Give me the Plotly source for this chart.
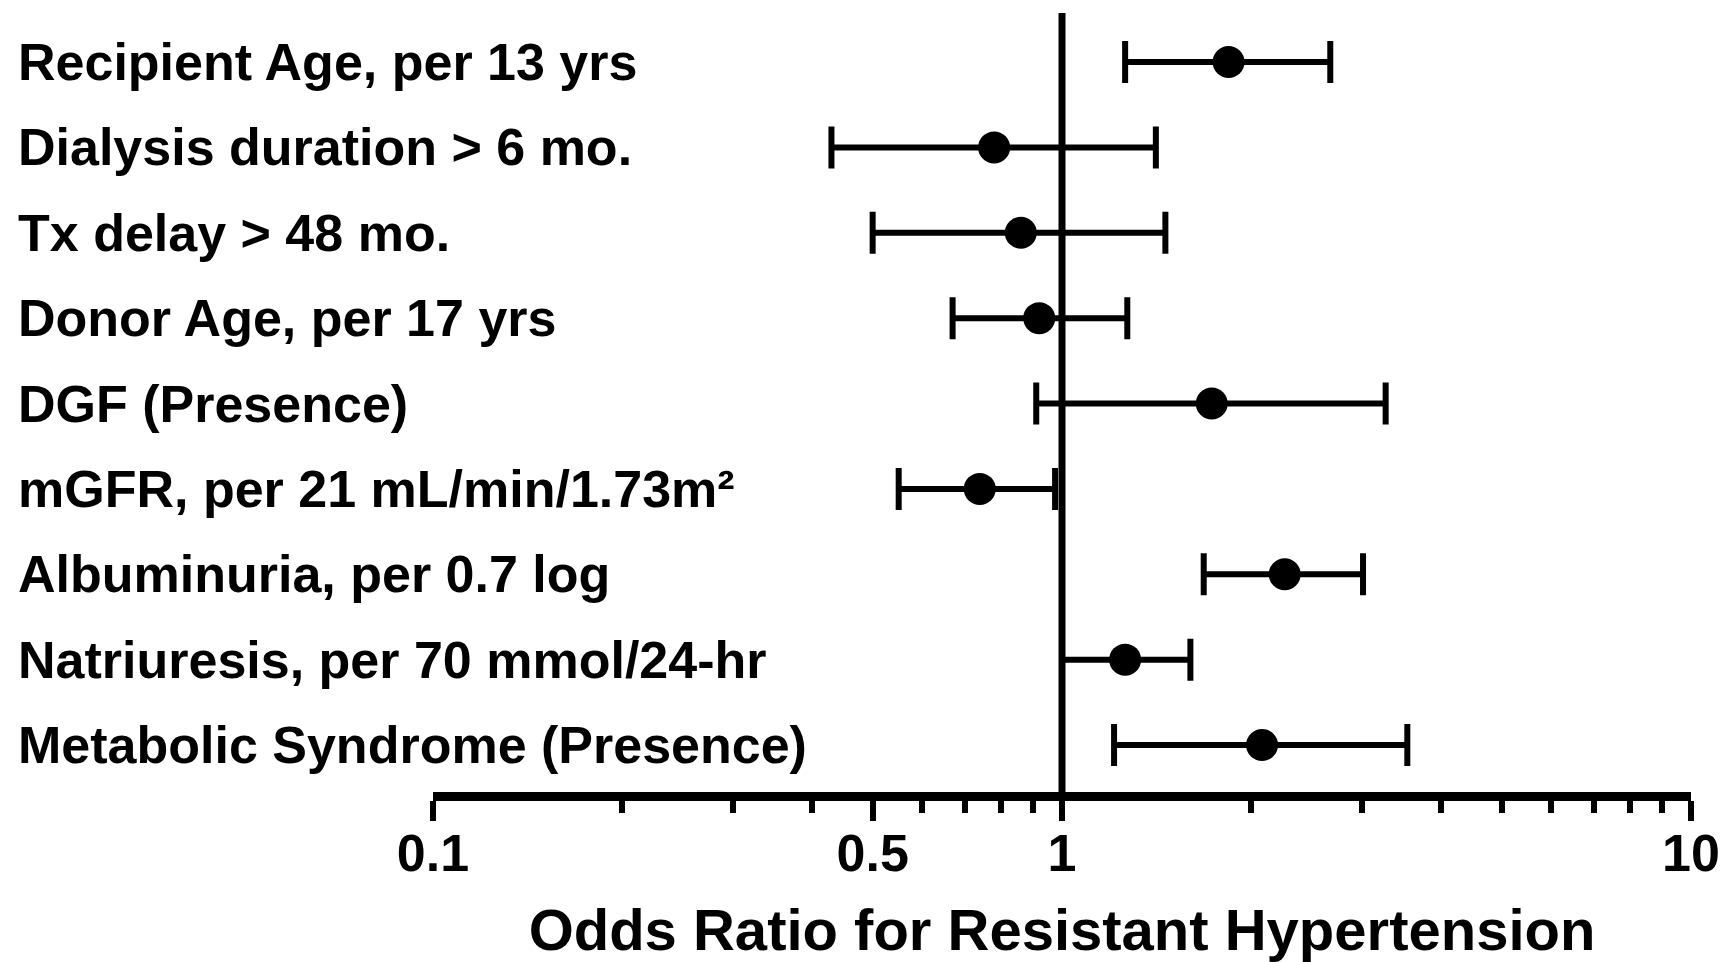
import plotly.graph_objects as go

labels = [
    "Recipient Age, per 13 yrs",
    "Dialysis duration > 6 mo.",
    "Tx delay > 48 mo.",
    "Donor Age, per 17 yrs",
    "DGF (Presence)",
    "mGFR, per 21 mL/min/1.73m²",
    "Albuminuria, per 0.7 log",
    "Natriuresis, per 70 mmol/24-hr",
    "Metabolic Syndrome (Presence)",
]
odds_ratio = [1.84, 0.78, 0.86, 0.92, 1.73, 0.74, 2.26, 1.26, 2.08]
ci_lower = [1.26, 0.43, 0.50, 0.67, 0.91, 0.55, 1.68, 1.00, 1.21]
ci_upper = [2.67, 1.41, 1.46, 1.27, 3.27, 0.975, 3.01, 1.60, 3.54]

major_ticks = [0.1, 0.5, 1, 10]
major_text = ["0.1", "0.5", "1", "10"]
minor_ticks = [0.2, 0.3, 0.4, 0.6, 0.7, 0.8, 0.9, 2, 3, 4, 5, 6, 7, 8, 9]

rows = list(range(len(labels)))
err_plus = [u - p for u, p in zip(ci_upper, odds_ratio)]
err_minus = [p - l for p, l in zip(odds_ratio, ci_lower)]

FONT = "Liberation Sans, Arial, sans-serif"

fig = go.Figure()
fig.add_trace(go.Scatter(
    x=odds_ratio, y=rows, mode="markers",
    marker=dict(color="black", size=32, symbol="circle"),
    error_x=dict(type="data", array=err_plus, arrayminus=err_minus,
                 symmetric=False, color="black", thickness=6, width=21),
    showlegend=False, hoverinfo="skip",
))

fig.add_shape(type="line", xref="x", yref="paper", x0=1, x1=1, y0=0, y1=1,
              line=dict(color="black", width=7), layer="above")

for i, lab in enumerate(labels):
    fig.add_annotation(text=lab, xref="paper", yref="y", x=-0.3311, y=i,
                       xanchor="left", yanchor="middle", showarrow=False,
                       font=dict(family=FONT, size=52, color="black", weight="bold"))

fig.update_layout(
    width=1731, height=962,
    margin=dict(l=433, r=40, t=13, b=170, autoexpand=False),
    paper_bgcolor="white", plot_bgcolor="white",
    xaxis=dict(
        type="log", range=[-1, 1], automargin=False,
        showline=True, linecolor="black", linewidth=9,
        showgrid=False, zeroline=False,
        tickmode="array", tickvals=major_ticks, ticktext=major_text,
        ticks="outside", ticklen=20, tickwidth=6, tickcolor="black",
        ticklabelstandoff=-12,
        minor=dict(tickmode="array", tickvals=minor_ticks, ticks="outside",
                   ticklen=12, tickwidth=6, tickcolor="black", showgrid=False),
        tickfont=dict(family=FONT, size=52, color="black", weight="bold"),
        title=dict(text="Odds Ratio for Resistant Hypertension",
                   font=dict(family=FONT, size=58, color="black", weight="bold"),
                   standoff=58),
    ),
    yaxis=dict(range=[8.55, -0.574], visible=False, automargin=False),
)

fig.write_html("out.html")
